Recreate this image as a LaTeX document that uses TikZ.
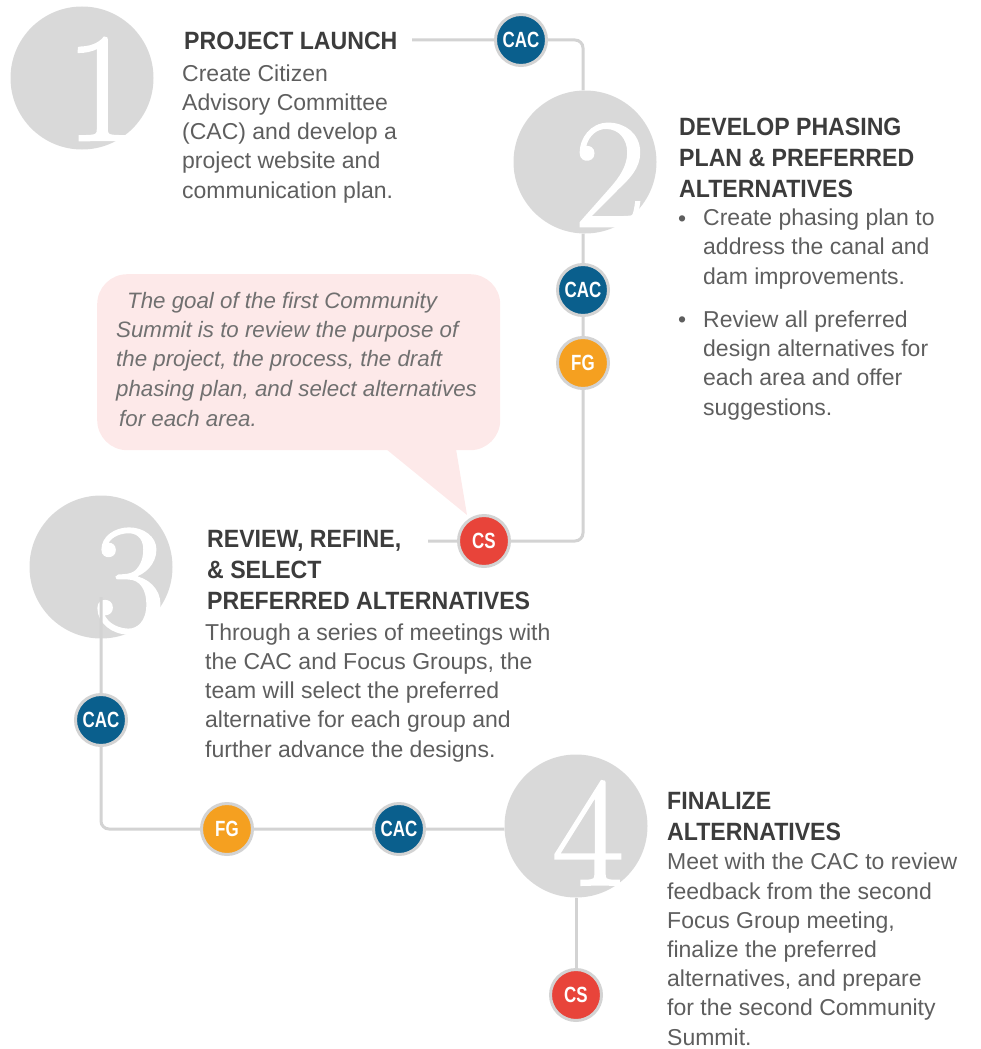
\documentclass[tikz,border=0pt]{standalone}
\usepackage{fontspec}
\newfontfamily\bodyfont{Liberation Sans}
\newfontfamily\headfont[FakeStretch=0.925]{Liberation Sans}
\newfontfamily\badgefont[FakeStretch=0.77]{Liberation Sans}
\newfontfamily\digitfont[FakeBold=1.5]{Latin Modern Roman}
\definecolor{circgray}{HTML}{D9D9D9}
\definecolor{linegray}{HTML}{D3D3D3}
\definecolor{cacblue}{HTML}{0A5F8D}
\definecolor{fgorange}{HTML}{F5A020}
\definecolor{csred}{HTML}{E8443A}
\definecolor{headcol}{HTML}{3C3C3C}
\definecolor{bodycol}{HTML}{5E5E5E}
\definecolor{bubtext}{HTML}{707070}
\definecolor{bubfill}{HTML}{FDE9E9}
\pgfdeclarelayer{circles}
\pgfdeclarelayer{lines}
\pgfsetlayers{circles,lines,main}
\tikzset{
  bigc/.style={circle, fill=circgray, minimum size=143pt, inner sep=0pt},
  digit/.style={text=white, inner sep=0pt, font=\digitfont\fontsize{155}{155}\selectfont},
  badge/.style={circle, draw=linegray, line width=3pt, minimum size=51pt, inner sep=0pt,
     text=white, font=\badgefont\bfseries\fontsize{22}{22}\selectfont},
  cac/.style={badge, fill=cacblue},
  fg/.style={badge, fill=fgorange},
  cs/.style={badge, fill=csred},
  conn/.style={draw=linegray, line width=3pt, rounded corners=8pt},
  head/.style={anchor=base west, inner sep=0pt, align=left, text=headcol,
     font=\headfont\bfseries\fontsize{25}{31}\selectfont},
  body/.style={anchor=base west, inner sep=0pt, align=left, text=bodycol,
     font=\bodyfont\fontsize{23}{29.2}\selectfont},
  bubtxt/.style={anchor=base west, inner sep=0pt, align=left, text=bubtext,
     font=\bodyfont\itshape\fontsize{22.3}{29.5}\selectfont},
}
\begin{document}
\begin{tikzpicture}[x=1pt,y=-1pt]
\useasboundingbox (0,0) rectangle (980,1049);
% big numbered circles
\begin{pgfonlayer}{circles}
\node[bigc] (c1) at (82,78) {};
\node[bigc] (c2) at (585,162) {};
\node[bigc] (c3) at (101,567) {};
\node[bigc] (c4) at (576,826) {};
\node[digit] (d1) at (101,89) {1};
\node[digit] (d2) at (610,175) {2};
\node[digit] (d3) at (129,581) {3};
\node[digit] (d4) at (588,833) {4};
\end{pgfonlayer}
% speech bubble
\node[fill=bubfill, rounded corners=30pt, minimum width=403pt, minimum height=176pt, anchor=north west, inner sep=0pt] (bub) at (97,274) {};
\coordinate (tipL) at (386,449);
\coordinate (tipR) at (456,449);
\coordinate (tip) at (467,515);
\fill[bubfill] (tipL) -- (tip) -- (tipR) -- cycle;
\node[bubtxt] (bt1) at (127,308) {The goal of the first Community};
\node[bubtxt] (bt2) at (116,396) {Summit is to review the purpose of\\the project, the process, the draft\\phasing plan, and select alternatives};
\node[bubtxt] (bt3) at (119,426) {for each area.};
% badges
\node[cac] (cac1) at (521,40) {CAC};
\node[cac] (cac2) at (583,290) {CAC};
\node[fg]  (fg2)  at (583,363) {FG};
\node[cs]  (cs3)  at (484,541) {CS};
\node[cac] (cac3) at (101,720) {CAC};
\node[fg]  (fg3)  at (227,829) {FG};
\node[cac] (cac4) at (399,829) {CAC};
\node[cs]  (cs4)  at (576,995) {CS};
% connector helper points
\coordinate (s1) at (412,40);
\coordinate (k1) at (583,40);
\coordinate (k2) at (583,541);
\coordinate (e2) at (428,541);
\coordinate (s3) at (101,597);
\coordinate (k3) at (101,829);
\begin{pgfonlayer}{lines}
\draw[conn] (s1) -- (cac1.center) -- (k1) -- (c2.north -| k1);
\draw[conn] (c2.south -| k1) -- (cac2.center) -- (fg2.center) -- (k2) -- (cs3.center) -- (e2);
\draw[conn] (s3) -- (cac3.center) -- (k3) -- (fg3.center) -- (cac4.center) -- (c4.west |- k3);
\draw[conn] (c4.south -| cs4) -- (cs4.center);
\end{pgfonlayer}
% step 1 (nodes anchored at the baseline of their last line)
\node[head] (h1) at (184,50) {PROJECT LAUNCH};
\node[body] (b1) at (182,198) {Create Citizen\\Advisory Committee\\(CAC) and develop a\\project website and\\communication plan.};
% step 2
\node[head] (h2) at (679,197) {DEVELOP PHASING\\PLAN \& PREFERRED\\ALTERNATIVES};
\node[body] (bul1) at (678,226) {•};
\node[body] (b2a) at (703,284) {Create phasing plan to\\address the canal and\\dam improvements.};
\node[body] (bul2) at (678,327) {•};
\node[body] (b2b) at (703,415) {Review all preferred\\design alternatives for\\each area and offer\\suggestions.};
% step 3
\node[head] (h3) at (207,609) {REVIEW, REFINE,\\\& SELECT\\PREFERRED ALTERNATIVES};
\node[body] (b3) at (205,757) {Through a series of meetings with\\the CAC and Focus Groups, the\\team will select the preferred\\alternative for each group and\\further advance the designs.};
% step 4
\node[head] (h4) at (667,840) {FINALIZE\\ALTERNATIVES};
\node[body] (b4) at (667,1045) {Meet with the CAC to review\\feedback from the second\\Focus Group meeting,\\finalize the preferred\\alternatives, and prepare\\for the second Community\\Summit.};
\end{tikzpicture}
\end{document}
